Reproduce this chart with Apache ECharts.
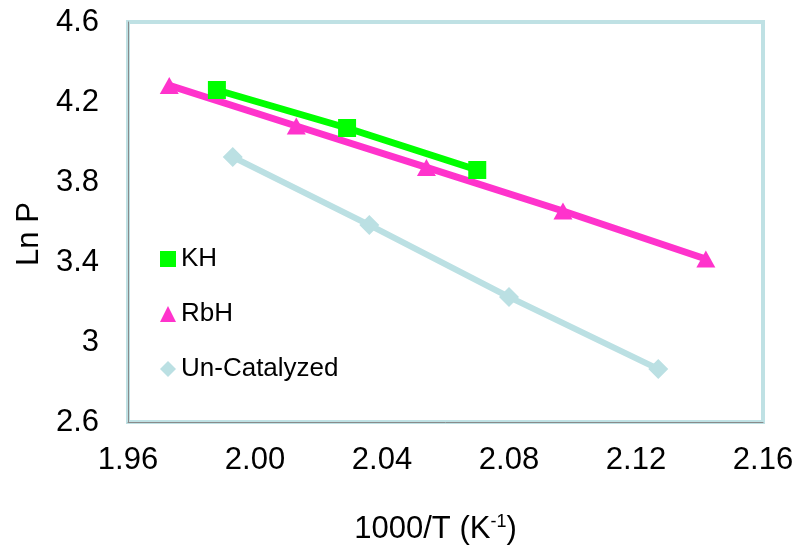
<!DOCTYPE html>
<html>
<head>
<meta charset="utf-8">
<script src="https://cdn.jsdelivr.net/npm/echarts@6/dist/echarts.min.js"></script>
<style>html,body{margin:0;padding:0;background:#fff;}#c{width:809px;height:551px;}</style>
</head>
<body>
<div id="c"></div>
<script>
var seriesNames = ['KH', 'RbH', 'Un-Catalyzed'];
var khX = [1.988, 2.029, 2.070];
var khY = [4.26, 4.07, 3.86];
var rbhX = [1.973, 2.013, 2.054, 2.097, 2.142];
var rbhY = [4.283, 4.08, 3.873, 3.655, 3.415];
var unX = [1.993, 2.036, 2.080, 2.127];
var unY = [3.925, 3.585, 3.225, 2.865];
var xTicks = [1.96, 2.00, 2.04, 2.08, 2.12, 2.16];
var yTicks = [2.6, 3, 3.4, 3.8, 4.2, 4.6];

function pairs(xs, ys) { return xs.map(function (x, i) { return [x, ys[i]]; }); }

var FONT = '"Liberation Sans", Arial, sans-serif';
var chart = echarts.init(document.getElementById('c'), null, {renderer: 'canvas'});
chart.setOption({
  backgroundColor: '#ffffff',
  animation: false,
  grid: {left: 128, right: 46, top: 22, bottom: 129, show: true, borderColor: '#bfe1e4', borderWidth: 4, backgroundColor: 'transparent'},
  legend: {
    orient: 'vertical', left: 160, top: 246, padding: 0, itemGap: 29, itemWidth: 16, itemHeight: 16,
    textStyle: {fontFamily: FONT, fontSize: 26, color: '#000'},
    data: [
      {name: seriesNames[0], icon: 'rect'},
      {name: seriesNames[1], icon: 'triangle'},
      {name: seriesNames[2], icon: 'diamond'}
    ]
  },
  xAxis: {
    type: 'value', min: xTicks[0], max: xTicks[xTicks.length - 1], interval: 0.04,
    axisLine: {show: true, lineStyle: {color: '#8a8a8a', width: 1}},
    axisTick: {show: false}, splitLine: {show: false},
    axisLabel: {fontFamily: FONT, fontSize: 31, color: '#000', margin: 23, formatter: function (v) { return v.toFixed(2); }},
    name: '{a|1000/T (K}{s|-1}{a|)}', nameLocation: 'middle', nameGap: 91,
    nameTextStyle: {fontFamily: FONT, fontSize: 31, color: '#000', padding: [0, 20, 0, 0],
      rich: {a: {fontFamily: FONT, fontSize: 31, color: '#000', lineHeight: 33}, s: {fontFamily: FONT, fontSize: 18, color: '#000', verticalAlign: 'top', lineHeight: 33}}}
  },
  yAxis: {
    type: 'value', min: yTicks[0], max: yTicks[yTicks.length - 1], interval: 0.4,
    axisLine: {show: true, lineStyle: {color: '#8a8a8a', width: 1}},
    axisTick: {show: false}, splitLine: {show: false},
    axisLabel: {fontFamily: FONT, fontSize: 31, color: '#000', margin: 29},
    name: 'Ln P', nameLocation: 'middle', nameGap: 83,
    nameTextStyle: {fontFamily: FONT, fontSize: 31, color: '#000', padding: [0, 24, 0, 0]}
  },
  series: [
    {name: seriesNames[2], type: 'line', data: pairs(unX, unY), symbol: 'diamond', symbolSize: 20, z: 2,
      lineStyle: {color: '#bbe0e3', width: 6}, itemStyle: {color: '#bbe0e3'}},
    {name: seriesNames[1], type: 'line', data: pairs(rbhX, rbhY), symbol: 'triangle', symbolSize: [19, 17], z: 3,
      lineStyle: {color: '#ff33cc', width: 7}, itemStyle: {color: '#ff33cc'}},
    {name: seriesNames[0], type: 'line', data: pairs(khX, khY), symbol: 'rect', symbolSize: 18, z: 4,
      lineStyle: {color: '#00ff00', width: 7}, itemStyle: {color: '#00ff00'}}
  ]
});
</script>
</body>
</html>
